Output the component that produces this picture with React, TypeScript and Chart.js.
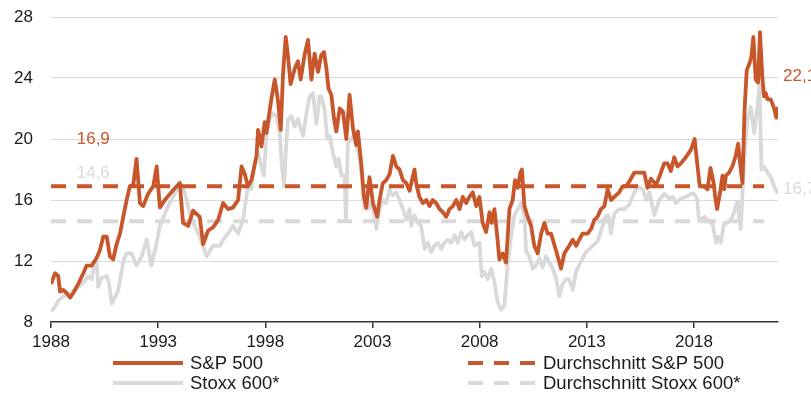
import { useEffect, useRef } from "react";
import { Chart, registerables } from "chart.js";

Chart.register(...registerables);

// ---------- data ----------
const xTickYears = [1988, 1993, 1998, 2003, 2008, 2013, 2018];
const yTickValues = [8, 12, 16, 20, 24, 28];
const xRange = [1988, 2021.92];
const averageSpan = [1988, 2021.27];

const spLabel = "S&P 500";
const stoxxLabel = "Stoxx 600*";
const spAvgLabel = "Durchschnitt S&P 500";
const stoxxAvgLabel = "Durchschnitt Stoxx 600*";

const spAverage = 16.9;
const stoxxAverage = 14.6;

// [year, P/E]
const spSeries: [number, number][] = [
  [1988.0, 10.5], [1988.19, 11.2], [1988.34, 11.0], [1988.42, 10.0], [1988.57, 10.1], [1988.73, 9.9],
  [1988.89, 9.6], [1989.04, 9.9], [1989.27, 10.5], [1989.51, 11.2], [1989.66, 11.7], [1989.9, 11.7],
  [1990.13, 12.2], [1990.28, 12.7], [1990.44, 13.6], [1990.6, 13.6], [1990.75, 12.3], [1990.9, 12.1],
  [1991.06, 13.1], [1991.22, 13.8], [1991.37, 14.9], [1991.53, 16.0], [1991.68, 16.9], [1991.84, 17.0],
  [1991.99, 18.7], [1992.15, 15.8], [1992.3, 15.6], [1992.53, 16.4], [1992.77, 16.9], [1992.93, 18.2],
  [1993.08, 15.5], [1993.31, 16.0], [1993.55, 16.4], [1993.86, 16.9], [1994.01, 17.1], [1994.16, 14.5],
  [1994.4, 14.3], [1994.63, 15.3], [1994.94, 14.9], [1995.1, 13.1], [1995.33, 14.0], [1995.56, 14.2],
  [1995.8, 14.7], [1996.03, 15.8], [1996.26, 15.4], [1996.49, 15.5], [1996.73, 16.0], [1996.89, 18.2],
  [1997.04, 17.7], [1997.19, 16.9], [1997.35, 17.3], [1997.59, 18.9], [1997.66, 20.6], [1997.82, 19.5],
  [1997.97, 21.1], [1998.05, 20.4], [1998.28, 22.6], [1998.44, 23.9], [1998.52, 23.2], [1998.59, 22.5],
  [1998.72, 20.6], [1998.82, 24.1], [1998.95, 26.7], [1999.06, 25.4], [1999.18, 23.6], [1999.37, 24.6],
  [1999.52, 25.1], [1999.65, 23.9], [1999.84, 25.6], [1999.99, 26.5], [2000.15, 23.9], [2000.3, 25.6],
  [2000.46, 24.4], [2000.61, 25.5], [2000.74, 25.7], [2000.85, 24.6], [2000.95, 23.3], [2001.08, 22.9],
  [2001.2, 21.4], [2001.31, 20.5], [2001.47, 22.0], [2001.62, 21.8], [2001.78, 20.0], [2001.93, 22.9],
  [2002.09, 20.7], [2002.24, 19.6], [2002.32, 20.5], [2002.48, 18.3], [2002.6, 16.2], [2002.71, 15.5],
  [2002.86, 17.5], [2003.02, 15.8], [2003.22, 14.9], [2003.33, 16.0], [2003.48, 17.1], [2003.64, 17.3],
  [2003.8, 17.7], [2003.95, 18.9], [2004.11, 18.2], [2004.26, 18.0], [2004.42, 17.3], [2004.58, 17.1],
  [2004.73, 16.6], [2004.81, 17.1], [2004.96, 18.0], [2005.04, 17.1], [2005.19, 16.2], [2005.35, 15.8],
  [2005.51, 16.0], [2005.66, 15.6], [2005.81, 16.0], [2005.97, 15.8], [2006.13, 15.4], [2006.28, 15.2],
  [2006.44, 14.9], [2006.59, 15.4], [2006.75, 15.6], [2006.91, 16.0], [2007.06, 15.4], [2007.21, 16.2],
  [2007.37, 15.8], [2007.52, 16.2], [2007.68, 16.5], [2007.84, 15.6], [2007.99, 16.2], [2008.14, 14.5],
  [2008.3, 13.9], [2008.46, 15.2], [2008.56, 14.5], [2008.69, 15.4], [2008.82, 13.6], [2008.92, 12.1],
  [2009.08, 12.5], [2009.23, 11.9], [2009.39, 15.4], [2009.54, 16.0], [2009.65, 17.3], [2009.78, 16.8],
  [2009.9, 17.8], [2009.97, 18.0], [2010.09, 15.6], [2010.24, 14.9], [2010.4, 14.3], [2010.55, 13.0],
  [2010.71, 12.5], [2010.87, 13.8], [2011.02, 14.5], [2011.17, 13.8], [2011.33, 13.8], [2011.56, 12.7],
  [2011.8, 11.5], [2011.95, 12.5], [2012.18, 13.0], [2012.34, 13.4], [2012.5, 13.0], [2012.65, 13.4],
  [2012.8, 13.8], [2013.04, 13.8], [2013.2, 14.1], [2013.35, 14.7], [2013.5, 14.9], [2013.66, 15.4],
  [2013.82, 15.6], [2013.97, 16.7], [2014.13, 16.0], [2014.28, 16.2], [2014.51, 16.5], [2014.67, 16.9],
  [2014.83, 16.9], [2014.98, 17.2], [2015.22, 17.8], [2015.45, 17.8], [2015.68, 17.8], [2015.83, 16.8],
  [2015.99, 17.4], [2016.23, 17.0], [2016.38, 17.5], [2016.61, 18.4], [2016.77, 18.4], [2016.92, 17.9],
  [2017.08, 18.8], [2017.23, 18.2], [2017.39, 18.4], [2017.62, 18.8], [2017.86, 19.3], [2018.03, 20.0],
  [2018.15, 18.4], [2018.27, 16.9], [2018.48, 16.9], [2018.63, 16.7], [2018.77, 18.1], [2018.92, 17.1],
  [2018.99, 16.2], [2019.08, 15.4], [2019.24, 16.7], [2019.33, 17.6], [2019.41, 16.7], [2019.49, 17.6],
  [2019.64, 17.8], [2019.79, 18.2], [2019.95, 18.9], [2020.06, 19.7], [2020.15, 18.4], [2020.26, 17.1],
  [2020.36, 21.9], [2020.46, 24.5], [2020.6, 25.0], [2020.68, 25.4], [2020.77, 26.7], [2020.88, 23.9],
  [2020.99, 23.7], [2021.08, 27.0], [2021.19, 24.0], [2021.27, 22.8], [2021.35, 23.0], [2021.43, 22.6],
  [2021.58, 22.6], [2021.74, 22.0], [2021.84, 21.4], [2021.92, 22.1],
];

const stoxxSeries: [number, number][] = [
  [1988.0, 8.7], [1988.19, 9.0], [1988.34, 9.4], [1988.5, 9.6], [1988.73, 9.8], [1988.96, 9.9],
  [1989.2, 10.2], [1989.35, 10.4], [1989.51, 10.6], [1989.74, 11.0], [1989.9, 10.8], [1990.02, 11.8],
  [1990.13, 11.9], [1990.2, 10.3], [1990.36, 10.9], [1990.6, 11.0], [1990.7, 10.6], [1990.83, 9.2],
  [1990.98, 9.6], [1991.14, 10.1], [1991.29, 11.3], [1991.4, 12.1], [1991.53, 12.5], [1991.76, 12.5],
  [1991.99, 11.7], [1992.23, 12.3], [1992.46, 13.4], [1992.69, 11.7], [1992.93, 13.2], [1993.08, 14.3],
  [1993.31, 15.1], [1993.47, 15.6], [1993.7, 16.2], [1994.01, 17.2], [1994.24, 16.5], [1994.48, 15.1],
  [1994.71, 14.3], [1994.94, 13.6], [1995.26, 12.3], [1995.56, 13.0], [1995.88, 13.0], [1996.03, 13.4],
  [1996.26, 13.8], [1996.49, 14.3], [1996.73, 13.8], [1996.96, 14.7], [1997.19, 16.9], [1997.35, 16.7],
  [1997.51, 18.4], [1997.66, 19.1], [1997.82, 18.2], [1997.93, 17.6], [1998.05, 20.2], [1998.21, 21.3],
  [1998.36, 21.7], [1998.52, 21.5], [1998.67, 20.4], [1998.76, 18.5], [1998.87, 16.9], [1998.97, 19.5],
  [1999.06, 21.3], [1999.22, 21.5], [1999.37, 20.8], [1999.52, 21.3], [1999.76, 20.2], [1999.92, 21.7],
  [2000.07, 22.8], [2000.22, 23.0], [2000.38, 21.0], [2000.53, 22.8], [2000.61, 22.8], [2000.77, 21.9],
  [2000.89, 20.0], [2001.0, 20.2], [2001.15, 19.1], [2001.31, 18.2], [2001.42, 18.7], [2001.55, 17.6],
  [2001.7, 17.6], [2001.76, 14.6], [2001.85, 19.7], [2002.09, 20.2], [2002.24, 19.7], [2002.4, 18.7],
  [2002.55, 16.9], [2002.63, 15.4], [2002.79, 15.4], [2002.91, 15.8], [2003.07, 15.2], [2003.18, 14.1],
  [2003.33, 15.4], [2003.48, 16.0], [2003.64, 15.8], [2003.8, 16.7], [2003.95, 16.3], [2004.11, 16.5],
  [2004.26, 16.0], [2004.42, 15.4], [2004.58, 14.7], [2004.73, 15.4], [2004.81, 14.3], [2004.96, 15.0],
  [2005.12, 14.5], [2005.27, 14.3], [2005.43, 12.8], [2005.58, 13.2], [2005.74, 12.6], [2005.89, 13.0],
  [2006.05, 13.2], [2006.21, 12.8], [2006.36, 13.2], [2006.51, 13.4], [2006.67, 13.2], [2006.83, 13.7],
  [2006.98, 13.2], [2007.14, 13.9], [2007.29, 13.4], [2007.45, 13.7], [2007.6, 13.9], [2007.76, 13.0],
  [2007.99, 13.2], [2008.1, 11.0], [2008.22, 11.3], [2008.38, 10.8], [2008.54, 11.5], [2008.69, 10.6],
  [2008.84, 9.3], [2009.0, 8.8], [2009.16, 9.1], [2009.31, 11.9], [2009.47, 13.6], [2009.62, 15.0],
  [2009.78, 15.4], [2009.93, 15.8], [2010.09, 15.0], [2010.17, 12.6], [2010.32, 12.3], [2010.47, 11.5],
  [2010.63, 11.7], [2010.79, 12.2], [2010.94, 11.6], [2011.1, 12.3], [2011.25, 11.9], [2011.41, 11.5],
  [2011.56, 10.9], [2011.72, 9.7], [2011.87, 10.5], [2012.03, 10.8], [2012.18, 10.8], [2012.34, 10.1],
  [2012.5, 11.3], [2012.73, 12.0], [2012.96, 12.6], [2013.2, 12.9], [2013.5, 13.3], [2013.74, 14.3],
  [2013.86, 14.9], [2014.0, 15.0], [2014.13, 13.8], [2014.28, 15.1], [2014.51, 15.4], [2014.75, 15.4],
  [2014.98, 15.7], [2015.22, 16.5], [2015.37, 16.9], [2015.61, 16.7], [2015.77, 16.0], [2015.92, 16.5],
  [2016.15, 15.0], [2016.38, 16.0], [2016.61, 16.4], [2016.85, 16.1], [2017.01, 16.2], [2017.16, 15.8],
  [2017.39, 16.1], [2017.62, 16.2], [2017.86, 16.4], [2018.01, 16.4], [2018.14, 16.1], [2018.24, 14.6],
  [2018.48, 14.9], [2018.71, 14.6], [2018.87, 14.4], [2019.03, 13.2], [2019.13, 13.6], [2019.25, 13.2],
  [2019.41, 14.5], [2019.56, 14.5], [2019.72, 14.7], [2019.87, 15.2], [2020.03, 15.9], [2020.18, 14.1],
  [2020.34, 18.5], [2020.49, 21.3], [2020.65, 22.1], [2020.81, 20.4], [2020.96, 22.1], [2021.06, 23.5],
  [2021.15, 18.0], [2021.27, 18.2], [2021.43, 17.8], [2021.58, 17.5], [2021.74, 16.9], [2021.88, 16.5],
  [2021.92, 16.7],
];

// ---------- style ----------
const ORANGE = "#C8562B";
const GREY = "#D9D9D9";
const TEXT = "#1a1a1a";
const FONT_FAMILY = "'Liberation Sans', Arial, Helvetica, sans-serif";
const FONT_SIZE = 17;
const LEGEND_FONT_SIZE = 18.5;

const fmt = (v: number) => v.toFixed(1).replace(".", ",");

const overlayPlugin = {
  id: "overlay",
  afterDraw(chart: any) {
    const { ctx, chartArea } = chart;
    const x = chart.scales.x;
    const y = chart.scales.y;
    ctx.save();
    ctx.font = `${FONT_SIZE}px ${FONT_FAMILY}`;
    ctx.textBaseline = "middle";
    ctx.textAlign = "left";

    // value labels
    const spLast = spSeries[spSeries.length - 1][1];
    const stoxxLast = stoxxSeries[stoxxSeries.length - 1][1];
    const labelX = x.getPixelForValue(1989.2);
    ctx.fillStyle = ORANGE;
    ctx.fillText(fmt(spAverage), labelX, y.getPixelForValue(spAverage) - 47);
    ctx.fillStyle = GREY;
    ctx.fillText(fmt(stoxxAverage), labelX, y.getPixelForValue(stoxxAverage) - 48);
    ctx.fillStyle = ORANGE;
    ctx.fillText(fmt(spLast), chartArea.right + 5, y.getPixelForValue(spLast) - 31);
    ctx.fillStyle = GREY;
    ctx.fillText(fmt(stoxxLast), chartArea.right + 5, y.getPixelForValue(stoxxLast));

    // legend
    ctx.font = `${LEGEND_FONT_SIZE}px ${FONT_FAMILY}`;
    const rows = [
      [
        { label: spLabel, color: ORANGE, dash: [] as number[] },
        { label: spAvgLabel, color: ORANGE, dash: [15, 11] },
      ],
      [
        { label: stoxxLabel, color: GREY, dash: [] as number[] },
        { label: stoxxAvgLabel, color: GREY, dash: [15, 11] },
      ],
    ];
    const rowY = [363, 383];
    const cols = [
      { x0: 113, x1: 183, tx: 190 },
      { x0: 468, x1: 535, tx: 543 },
    ];
    rows.forEach((row, ri) => {
      row.forEach((item, ci) => {
        const c = cols[ci];
        ctx.beginPath();
        ctx.setLineDash(item.dash);
        ctx.strokeStyle = item.color;
        ctx.lineWidth = 4;
        ctx.lineCap = "butt";
        ctx.moveTo(c.x0, rowY[ri]);
        ctx.lineTo(c.x1, rowY[ri]);
        ctx.stroke();
        ctx.setLineDash([]);
        ctx.fillStyle = TEXT;
        ctx.fillText(item.label, c.tx, rowY[ri] + 1);
      });
    });
    ctx.restore();
  },
};

export default function App() {
  const canvasRef = useRef<HTMLCanvasElement | null>(null);

  useEffect(() => {
    document.body.style.margin = "0";
    const canvas = canvasRef.current;
    if (!canvas) return;
    const font = { family: FONT_FAMILY, size: FONT_SIZE };
    const chart = new Chart(canvas, {
      type: "line",
      data: {
        datasets: [
          {
            label: spLabel,
            data: spSeries.map(([x, y]) => ({ x, y })),
            borderColor: ORANGE,
            borderWidth: 3.8,
            pointRadius: 0,
            tension: 0,
            order: 1,
          },
          {
            label: spAvgLabel,
            data: averageSpan.map((x) => ({ x, y: spAverage })),
            borderColor: ORANGE,
            borderWidth: 4,
            borderDash: [15, 11],
            pointRadius: 0,
            order: 2,
          },
          {
            label: stoxxAvgLabel,
            data: averageSpan.map((x) => ({ x, y: stoxxAverage })),
            borderColor: GREY,
            borderWidth: 4,
            borderDash: [15, 11],
            pointRadius: 0,
            order: 3,
          },
          {
            label: stoxxLabel,
            data: stoxxSeries.map(([x, y]) => ({ x, y })),
            borderColor: GREY,
            borderWidth: 3.8,
            pointRadius: 0,
            tension: 0,
            order: 4,
          },
        ],
      },
      options: {
        responsive: false,
        animation: false,
        events: [],
        layout: { padding: { left: 0, right: 33, top: 17, bottom: 51 } },
        elements: { line: { borderJoinStyle: "round", borderCapStyle: "butt" } },
        plugins: { legend: { display: false }, tooltip: { enabled: false } },
        scales: {
          x: {
            type: "linear",
            min: xRange[0],
            max: xRange[1],
            afterBuildTicks: (s: any) => {
              s.ticks = xTickYears.map((v) => ({ value: v }));
            },
            afterFit: (s: any) => {
              s.height = 30;
              s.paddingLeft = 0;
              s.paddingRight = 0;
            },
            ticks: {
              autoSkip: false,
              maxRotation: 0,
              padding: 4,
              color: TEXT,
              font,
              callback: (v: any) => String(v),
            },
            grid: {
              drawOnChartArea: false,
              drawTicks: true,
              tickLength: 6,
              color: "#333333",
              lineWidth: 1.5,
            },
            border: { display: true, color: "#333333", width: 1.5 },
          },
          y: {
            min: yTickValues[0],
            max: yTickValues[yTickValues.length - 1],
            afterBuildTicks: (s: any) => {
              s.ticks = yTickValues.map((v) => ({ value: v }));
            },
            afterFit: (s: any) => {
              s.width = 51;
              s.paddingTop = 0;
              s.paddingBottom = 0;
            },
            ticks: { padding: 18, color: TEXT, font },
            grid: {
              drawTicks: false,
              color: (c: any) => (c.tick && c.tick.value === yTickValues[0] ? "rgba(0,0,0,0)" : "#DADADA"),
              lineWidth: 1,
            },
            border: { display: false },
          },
        },
      },
      plugins: [overlayPlugin],
    });
    return () => chart.destroy();
  }, []);

  return (
    <div style={{ width: 811, height: 403, position: "relative", background: "#fff" }}>
      <canvas ref={canvasRef} width={811} height={403} style={{ width: 811, height: 403, display: "block" }} />
    </div>
  );
}
